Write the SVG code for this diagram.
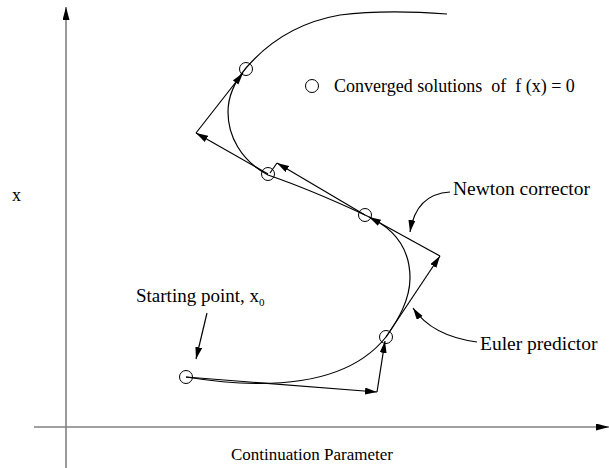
<svg xmlns="http://www.w3.org/2000/svg" width="609" height="468" viewBox="0 0 609 468">
<style>
text{font-family:"Liberation Serif","Times New Roman",serif;fill:#000;white-space:pre}
.ln{fill:none;stroke:#000;stroke-width:1.2}
.ax{fill:none;stroke:#808080;stroke-width:1.6}
.pt{fill:none;stroke:#000;stroke-width:1}
</style>
<defs>
<marker id="ah" markerUnits="userSpaceOnUse" markerWidth="13" markerHeight="8" refX="12" refY="3.5" orient="auto">
<path d="M0,0 L12,3.5 L0,7 z" fill="#000"/>
</marker>
<marker id="axh" markerUnits="userSpaceOnUse" markerWidth="14" markerHeight="8" refX="13" refY="3.5" orient="auto">
<path d="M0,0 L13,3.5 L0,7 z" fill="#000"/>
</marker>
</defs>
<g id="axes">
<line class="ax" x1="66" y1="468" x2="66" y2="7" marker-end="url(#axh)"/>
<line class="ax" x1="34" y1="427" x2="609" y2="427" marker-end="url(#axh)"/>
<text x="12" y="201" font-size="18">x</text>
<text x="231" y="460" font-size="17">Continuation Parameter</text>
</g>
<g id="curve">
<path class="ln" d="M186,377 C280,392 350,382 386,337 C398,320 410,300 410,278 C410,250 395,228 365,215 C335,201 300,186 268,175 C240,160 228,135 228,112 C228,95 236,80 246,68 C270,40 300,22 340,15 C380,10 420,12 447,14"/>
</g>
<g id="points">
<circle class="pt" cx="186" cy="377" r="6.5"/>
<circle class="pt" cx="386" cy="337" r="6.5"/>
<circle class="pt" cx="365" cy="215" r="6.5"/>
<circle class="pt" cx="268" cy="174" r="6.5"/>
<circle class="pt" cx="246" cy="69" r="6.5"/>
</g>
<g id="connectors">
<line class="ln" x1="186" y1="377" x2="377" y2="392" marker-end="url(#ah)"/>
<line class="ln" x1="377" y1="392" x2="385" y2="341" marker-end="url(#ah)"/>
<line class="ln" x1="386" y1="337" x2="440" y2="256" marker-end="url(#ah)"/>
<line class="ln" x1="440" y1="256" x2="369" y2="217" marker-end="url(#ah)"/>
<line class="ln" x1="365" y1="215" x2="277" y2="163" marker-end="url(#ah)"/>
<line class="ln" x1="277" y1="163" x2="270" y2="173"/>
<line class="ln" x1="268" y1="174" x2="196" y2="133" marker-end="url(#ah)"/>
<line class="ln" x1="196" y1="133" x2="243" y2="73" marker-end="url(#ah)"/>
<path class="ln" d="M450,192 Q416,194 410,232" marker-end="url(#ah)"/>
<path class="ln" d="M477,342 Q432,336 413,308" marker-end="url(#ah)"/>
<line class="ln" x1="207" y1="313" x2="196" y2="359" marker-end="url(#ah)"/>
</g>
<g id="legend">
<circle class="pt" cx="312" cy="86" r="6.5"/>
<text x="334" y="92" font-size="18">Converged solutions  of  f (x) = 0</text>
</g>
<g id="labels">
<text x="453" y="195" font-size="19.5">Newton corrector</text>
<text x="480" y="350" font-size="19.5">Euler predictor</text>
<text x="136" y="302" font-size="19">Starting point, x<tspan font-size="11" dy="4">0</tspan></text>
</g>
</svg>
